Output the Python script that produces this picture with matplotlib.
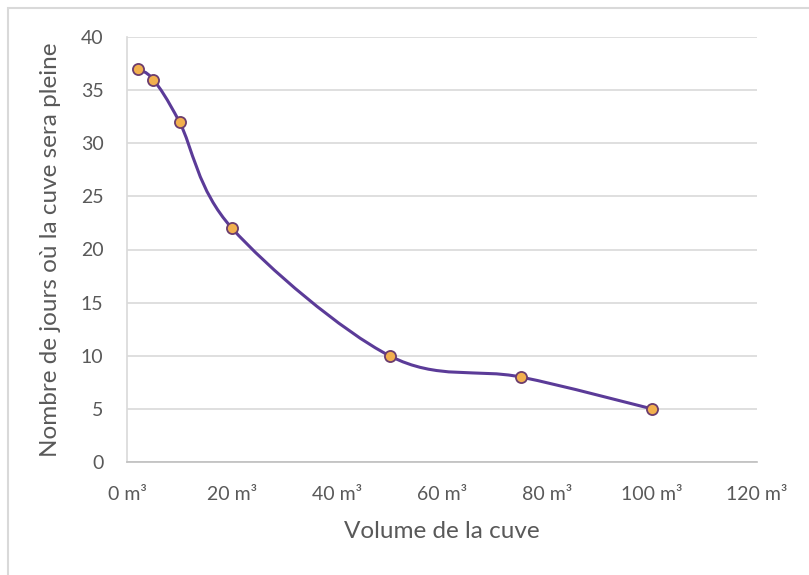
import matplotlib
matplotlib.use("Agg")
import matplotlib.pyplot as plt
from matplotlib.path import Path
from matplotlib.patches import PathPatch, Rectangle

# values
volumes = [2, 5, 10, 20, 50, 75, 100]
days = [37, 36, 32, 22, 10, 8, 5]
x_ticks = [0, 20, 40, 60, 80, 100, 120]
x_labels = [f"{v} m³" for v in x_ticks]
y_ticks = [0, 5, 10, 15, 20, 25, 30, 35, 40]

plt.rcParams['font.family'] = ['Lato', 'DejaVu Sans']

LINE = '#5b3b98'
TEXT = '#595959'


def smooth_path(xs, ys):
    """Excel-like smoothed line: cubic Bezier segments (Catmull-Rom tangents)"""
    pts = list(zip(xs, ys))
    verts = [pts[0]]
    codes = [Path.MOVETO]
    n = len(pts)
    for i in range(n - 1):
        p0 = pts[i - 1] if i > 0 else pts[i]
        p1 = pts[i]
        p2 = pts[i + 1]
        p3 = pts[i + 2] if i + 2 < n else pts[i + 1]
        c1 = (p1[0] + (p2[0] - p0[0]) / 6, p1[1] + (p2[1] - p0[1]) / 6)
        c2 = (p2[0] - (p3[0] - p1[0]) / 6, p2[1] - (p3[1] - p1[1]) / 6)
        verts += [c1, c2, p2]
        codes += [Path.CURVE4] * 3
    return Path(verts, codes)


fig = plt.figure(figsize=(8.09, 5.75), dpi=100)
fig.patches.append(Rectangle((8 / 809, -0.1), 1.2, 1 - 8 / 575 + 0.1,
                             transform=fig.transFigure, fill=False,
                             edgecolor='#d9d9d9', linewidth=1.5))

ax = fig.add_axes([127 / 809, 1 - 462 / 575, 630 / 809, 425 / 575])

ax.add_patch(PathPatch(smooth_path(volumes, days), fill=False,
                       edgecolor=LINE, linewidth=2.2, zorder=3))
ax.plot(volumes, days, linestyle='none', marker='o', markersize=8,
        markerfacecolor='#f2b04e', markeredgecolor='#6b3d6e',
        markeredgewidth=1.3, zorder=4)

ax.set_xlim(0, 120)
ax.set_ylim(0, 40)
ax.set_xticks(x_ticks)
ax.set_xticklabels(x_labels)
ax.set_yticks(y_ticks)

ax.grid(axis='y', color='#d9d9d9', linewidth=1.2)
ax.set_axisbelow(True)
for side in ['top', 'right']:
    ax.spines[side].set_visible(False)
ax.spines['left'].set_color('#d9d9d9')
ax.spines['bottom'].set_color('#bfbfbf')
ax.spines['left'].set_linewidth(1.2)
ax.spines['bottom'].set_linewidth(1.2)
ax.tick_params(length=0, labelsize=14, colors=TEXT)
ax.tick_params(axis='y', pad=17)
ax.tick_params(axis='x', pad=17)

ax.set_xlabel('Volume de la cuve', fontsize=17.5, color=TEXT, labelpad=13)
ax.set_ylabel('Nombre de jours où la cuve sera pleine', fontsize=17.5,
              color=TEXT, labelpad=14)

fig.savefig('out.png', dpi=100)
